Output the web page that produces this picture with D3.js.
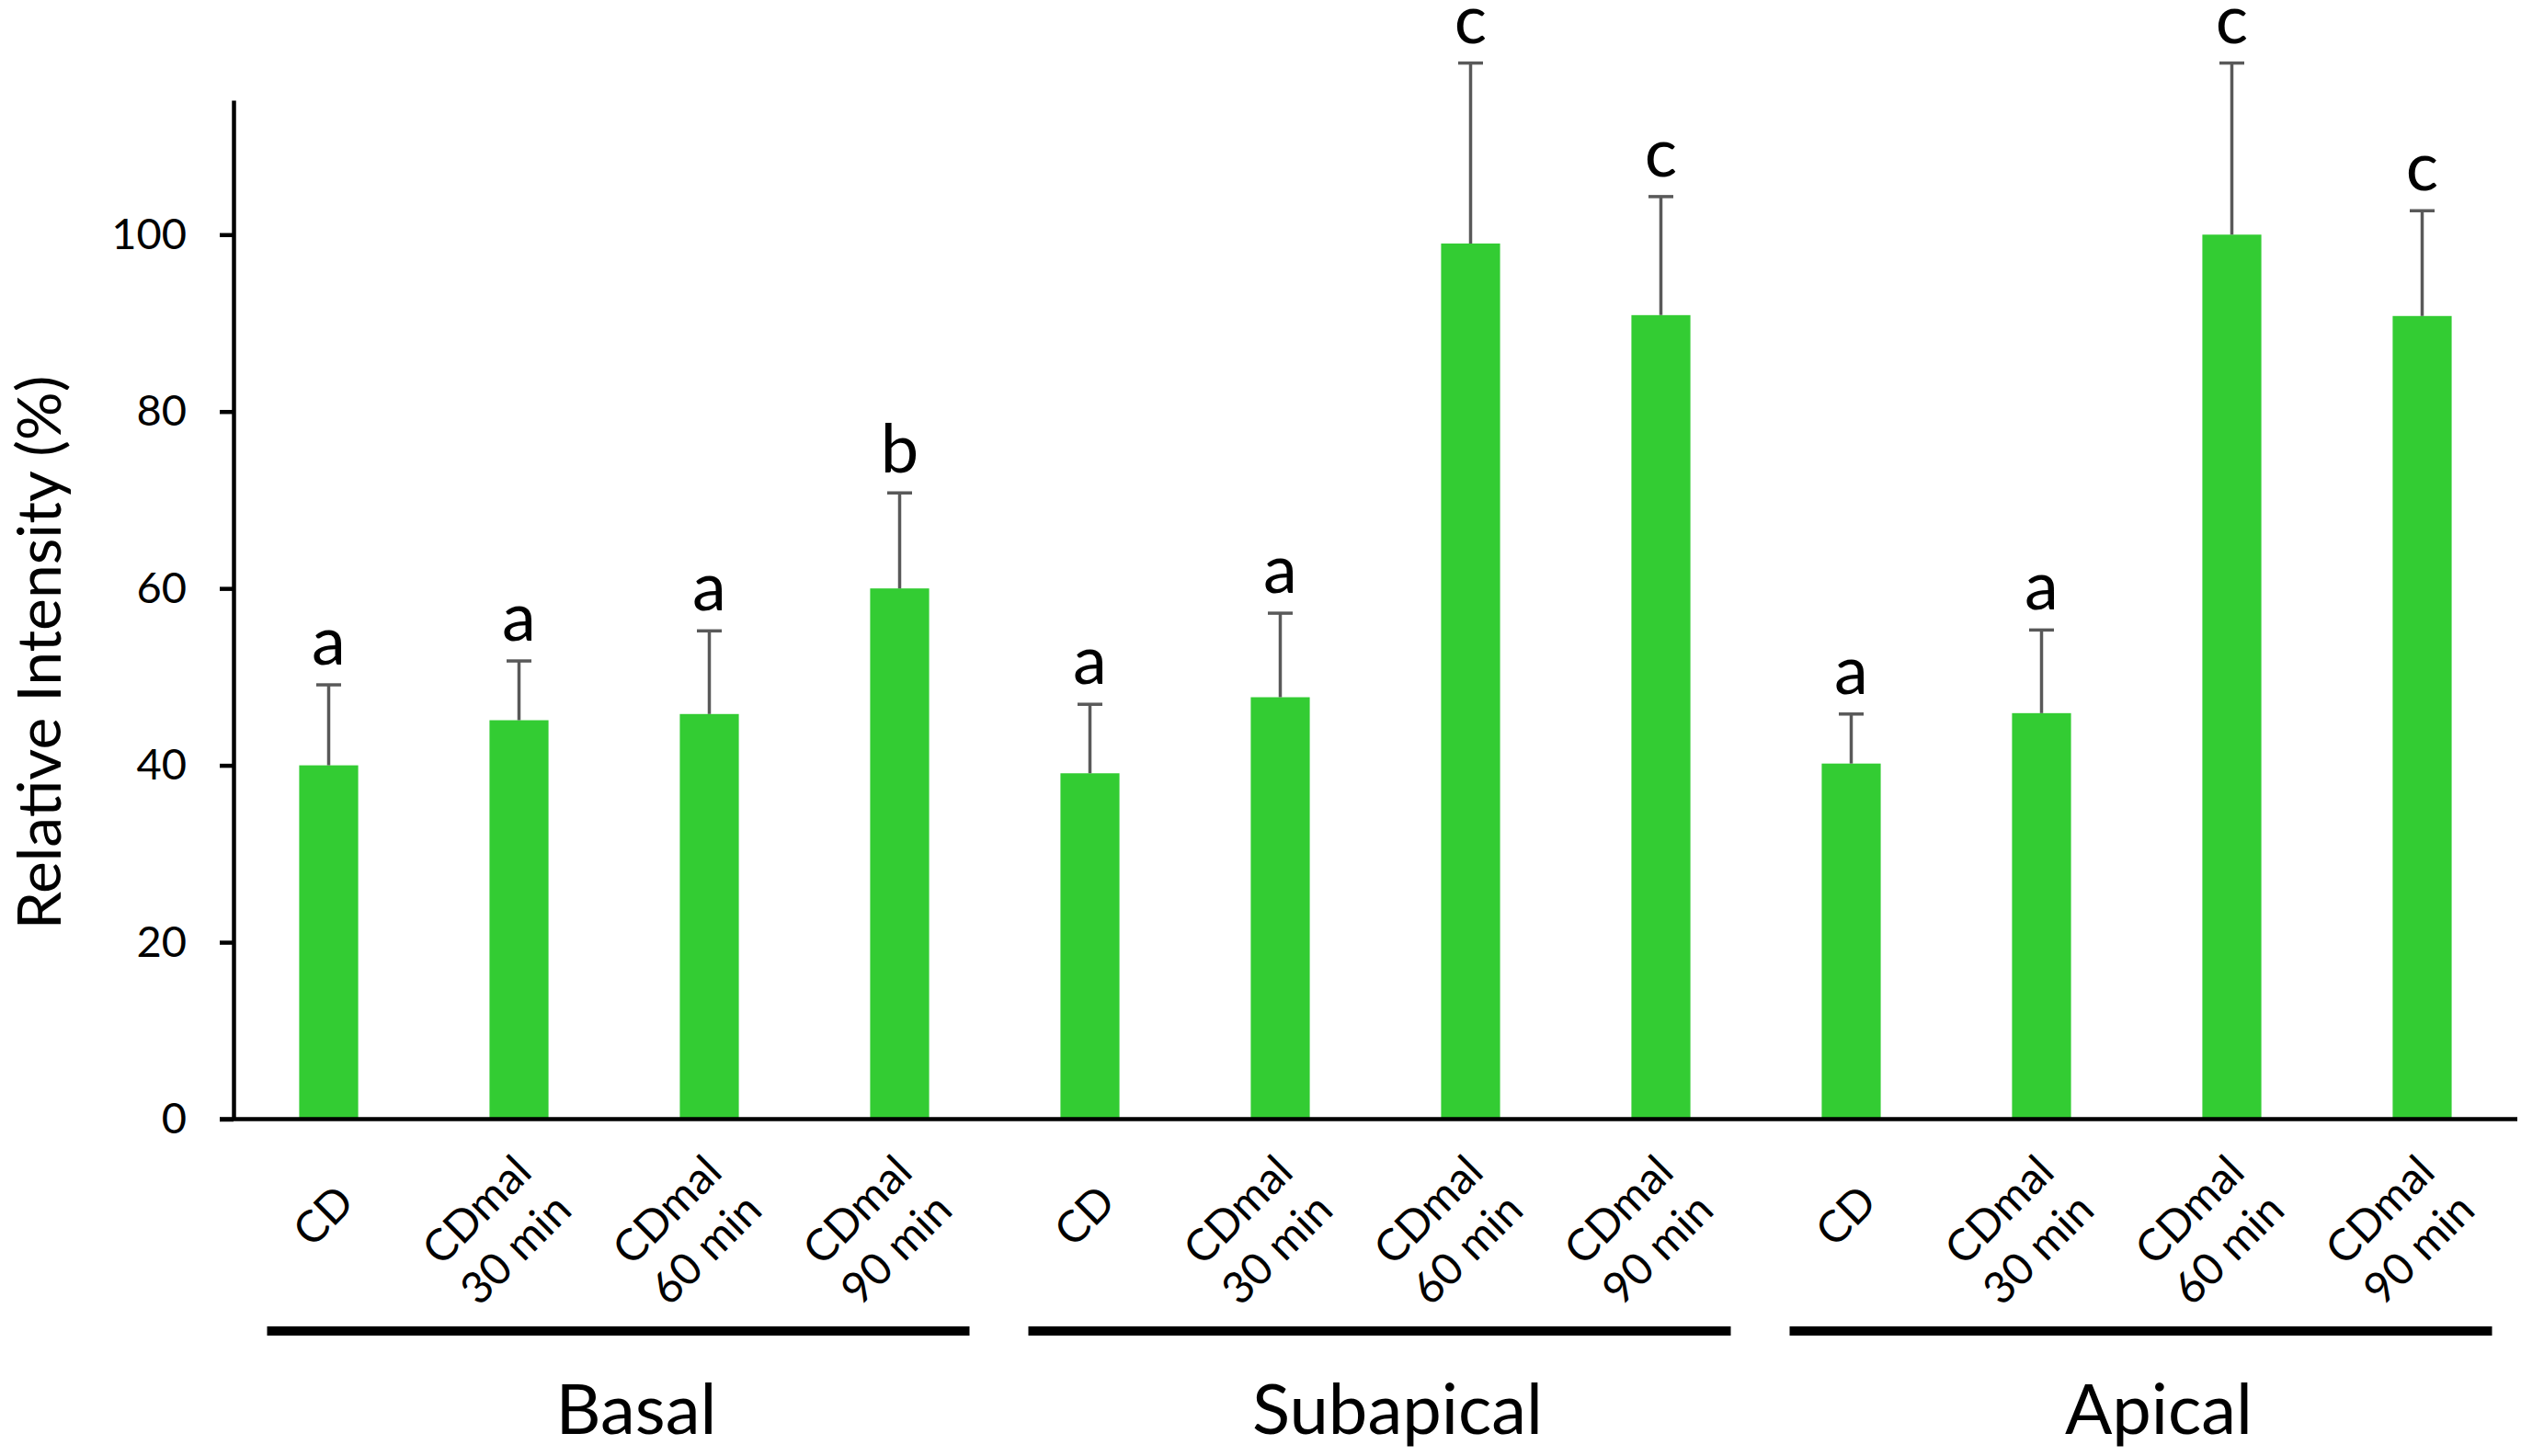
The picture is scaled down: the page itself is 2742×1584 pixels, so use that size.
<!DOCTYPE html>
<html>
<head>
<meta charset="utf-8">
<script src="https://cdn.jsdelivr.net/npm/d3@7"></script>
<style>
    body { margin: 0; background: #fff; }
    text { font-family: Lato, "Open Sans", sans-serif; fill: #000; }
</style>
</head>
<body>
<div id="chart"></div>
<script>
// values
const regions = ["Basal", "Subapical", "Apical"]
const treatmentLines = [["CD"], ["CDmal", "30 min"], ["CDmal", "60 min"], ["CDmal", "90 min"]]

const basalMeans = [40.0, 45.1, 45.8, 60.0]
const basalErr = [9.1, 6.7, 9.4, 10.8]
const basalLetters = ["a", "a", "a", "b"]

const subapicalMeans = [39.1, 47.7, 99.0, 90.9]
const subapicalErr = [7.8, 9.5, 20.4, 13.4]
const subapicalLetters = ["a", "a", "c", "c"]

const apicalMeans = [40.2, 45.9, 100.0, 90.8]
const apicalErr = [5.6, 9.4, 19.4, 11.9]
const apicalLetters = ["a", "a", "c", "c"]

const yTicks = [0, 20, 40, 60, 80, 100]
const yMax = 115.2

const width = 2742
const height = 1584
const plotLeft = 254, plotRight = 2738, plotTop = 109, plotBottom = 1217.5

let means = [basalMeans, subapicalMeans, apicalMeans]
let errs = [basalErr, subapicalErr, apicalErr]
let letters = [basalLetters, subapicalLetters, apicalLetters]

let rows = []
regions.forEach((r, gi) => {
    treatmentLines.forEach((t, ti) => {
        rows.push({
            id: r + "-" + ti,
            region: r,
            lines: t,
            mean: means[gi][ti],
            err: errs[gi][ti],
            letter: letters[gi][ti]
        })
    })
})

let svg = d3.select("#chart")
            .append("svg")
            .attr("width", width)
            .attr("height", height)

let xScale = d3.scaleBand()
               .domain(rows.map(d => d.id))
               .range([plotLeft, plotRight])
               .paddingInner(0.69)
               .paddingOuter(0.345)

let yScale = d3.scaleLinear()
               .domain([0, yMax])
               .range([plotBottom, plotTop])

let bw = xScale.bandwidth()
let cx = d => xScale(d.id) + bw / 2

// bars
svg.append("g")
   .selectAll("rect")
   .data(rows)
   .join("rect")
   .attr("x", d => xScale(d.id))
   .attr("y", d => yScale(d.mean))
   .attr("width", bw)
   .attr("height", d => yScale(0) - yScale(d.mean))
   .attr("fill", "#33cc33")

// error bars (upper only)
let errG = svg.append("g")
              .attr("stroke", "#595959")
errG.selectAll(".stem")
    .data(rows)
    .join("line")
    .attr("class", "stem")
    .attr("x1", cx)
    .attr("x2", cx)
    .attr("y1", d => yScale(d.mean))
    .attr("y2", d => yScale(d.mean + d.err))
    .attr("stroke-width", 3.5)
errG.selectAll(".cap")
    .data(rows)
    .join("line")
    .attr("class", "cap")
    .attr("x1", d => cx(d) - 13.5)
    .attr("x2", d => cx(d) + 13.5)
    .attr("y1", d => yScale(d.mean + d.err))
    .attr("y2", d => yScale(d.mean + d.err))
    .attr("stroke-width", 3.5)

// significance letters
svg.append("g")
   .selectAll("text")
   .data(rows)
   .join("text")
   .attr("x", cx)
   .attr("y", d => yScale(d.mean + d.err) - 22)
   .attr("text-anchor", "middle")
   .style("font-size", "74px")
   .text(d => d.letter)

// y axis
let yAxis = d3.axisLeft(yScale)
              .tickValues(yTicks)
              .tickSize(15)
              .tickSizeOuter(0)
              .tickPadding(36)
svg.append("g")
   .attr("transform", "translate(" + plotLeft + ",0)")
   .call(yAxis)
   .call(g => g.select(".domain").attr("stroke-width", 4.5))
   .call(g => g.selectAll(".tick line").attr("stroke-width", 4.5))
   .call(g => g.selectAll(".tick text").style("font-size", "47px").attr("fill", "#000"))

// x axis line
svg.append("line")
   .attr("x1", plotLeft - 15)
   .attr("x2", plotRight)
   .attr("y1", yScale(0))
   .attr("y2", yScale(0))
   .attr("stroke", "#000")
   .attr("stroke-width", 4.5)

// y title
svg.append("text")
   .attr("transform", "translate(66," + 710 + ") rotate(-90)")
   .attr("text-anchor", "middle")
   .style("font-size", "66px")
   .text("Relative Intensity (%)")

// rotated category labels
let lineGap = 60
let labels = svg.append("g")
                .selectAll("g")
                .data(rows)
                .join("g")
                .attr("transform", d => {
                    let n = d.lines.length - 1
                    return "translate(" + (cx(d) - 6 - 19 * n) + "," + (yScale(0) + 105 + 15 * n) + ") rotate(-45)"
                })
labels.each(function(d) {
    let n = d.lines.length
    let t = d3.select(this)
              .append("text")
              .attr("text-anchor", "middle")
              .style("font-size", "48px")
    d.lines.forEach((s, i) => {
        t.append("tspan")
         .attr("x", 0)
         .attr("y", (i - (n - 1) / 2) * lineGap)
         .attr("dy", "0.35em")
         .text(s)
    })
})

// region brackets and names
let groups = regions.map(r => {
    let ids = rows.filter(d => d.region == r)
    return { name: r, x0: cx(ids[0]), x1: cx(ids[ids.length - 1]) }
})
svg.append("g")
   .selectAll("line")
   .data(groups)
   .join("line")
   .attr("x1", d => d.x0 - 67)
   .attr("x2", d => d.x1 + 76)
   .attr("y1", 1448)
   .attr("y2", 1448)
   .attr("stroke", "#000")
   .attr("stroke-width", 10)
svg.append("g")
   .selectAll("text")
   .data(groups)
   .join("text")
   .attr("x", d => (d.x0 + d.x1) / 2 + 24)
   .attr("y", 1560)
   .attr("text-anchor", "middle")
   .style("font-size", "76px")
   .text(d => d.name)
</script>
</body>
</html>
